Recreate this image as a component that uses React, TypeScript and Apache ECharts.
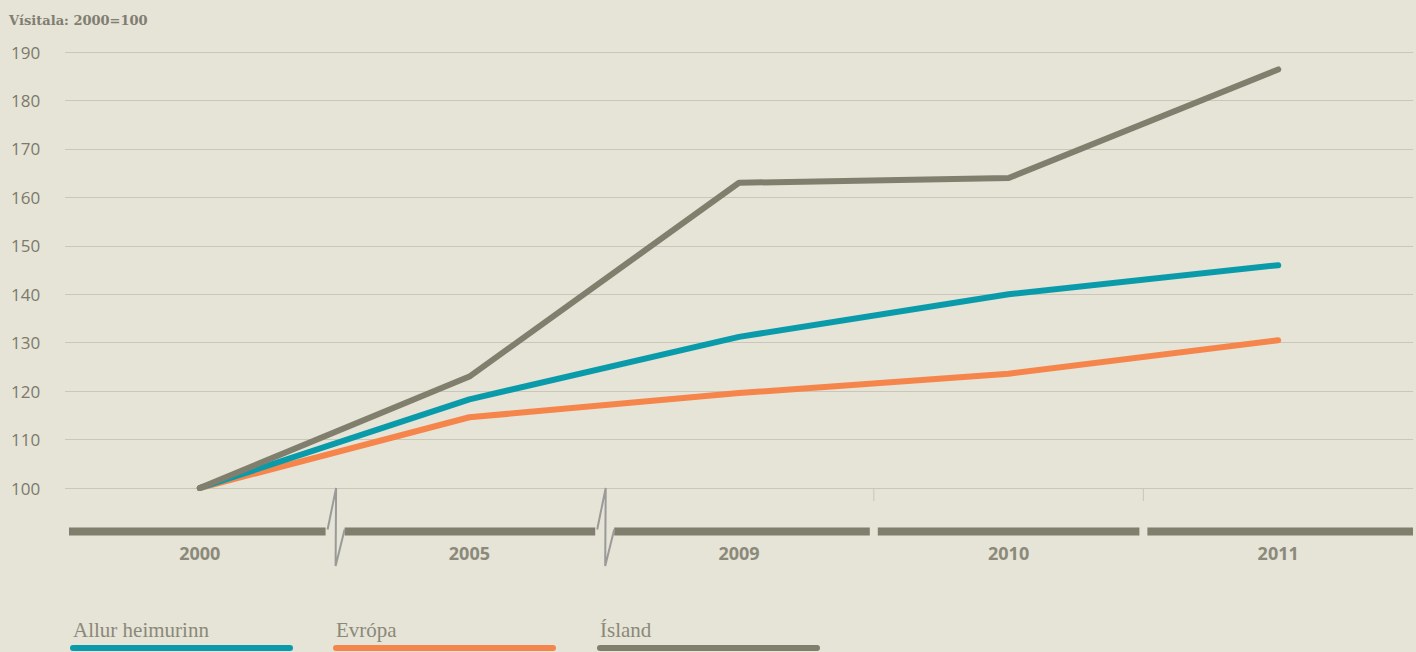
import React, { useEffect, useRef } from "react";
import * as echarts from "echarts";

const categories = ["2000", "2005", "2009", "2010", "2011"];
const allurHeimurinn = [100, 118.3, 131.2, 140, 146];
const evropa = [100, 114.6, 119.6, 123.6, 130.5];
const island = [100, 123, 163, 164, 186.4];
const seriesNames = ["Allur heimurinn", "Evrópa", "Ísland"];
const yTicks = { min: 100, max: 190, interval: 10 };
const title = "Vísitala: 2000=100";

const COLORS = { teal: "#0a9bab", orange: "#f5854a", gray: "#807f6e" };
const BG = "#e6e3d7";

export default function App() {
  const ref = useRef<HTMLDivElement>(null);

  useEffect(() => {
    document.body.style.margin = "0";
    const el = ref.current!;
    const chart = echarts.init(el, null, { renderer: "svg" });
    const lineStyle = (c: string) => ({ width: 6, color: c, cap: "round", join: "round" });
    const option: any = {
      animation: false,
      backgroundColor: BG,
      grid: { left: 65, right: 3, top: 52, bottom: 164 },
      xAxis: {
        type: "category",
        data: categories,
        boundaryGap: true,
        axisLine: { show: false },
        axisTick: { show: false },
        axisLabel: {
          margin: 56,
          color: "#8b8a7a",
          fontFamily: "Open Sans",
          fontWeight: "bold",
          fontSize: 18,
        },
      },
      yAxis: {
        type: "value",
        min: yTicks.min,
        max: yTicks.max,
        interval: yTicks.interval,
        axisLine: { show: false },
        axisTick: { show: false },
        splitLine: { lineStyle: { color: "#c9c7ba", width: 1 } },
        axisLabel: {
          align: "left",
          margin: 54,
          color: "#7b7a6b",
          fontFamily: "Open Sans",
          fontWeight: 500,
          fontSize: 17,
        },
      },
      series: [
        { name: seriesNames[1], type: "line", data: evropa, symbol: "none", lineStyle: lineStyle(COLORS.orange), z: 2 },
        { name: seriesNames[0], type: "line", data: allurHeimurinn, symbol: "none", lineStyle: lineStyle(COLORS.teal), z: 3 },
        { name: seriesNames[2], type: "line", data: island, symbol: "none", lineStyle: lineStyle(COLORS.gray), z: 4 },
      ],
    };
    chart.setOption(option);

    const px = (i: number) => chart.convertToPixel({ xAxisIndex: 0 }, i) as number;
    const y100 = chart.convertToPixel({ yAxisIndex: 0 }, yTicks.min) as number;
    const centers = categories.map((_, i) => px(i));
    const band = centers[1] - centers[0];
    const bounds: number[] = [];
    for (let i = 0; i < centers.length - 1; i++) bounds.push((centers[i] + centers[i + 1]) / 2);
    const leftEnd = centers[0] - band / 2 + 4;
    const rightEnd = centers[centers.length - 1] + band / 2;
    const barY = y100 + 43.5;

    const graphics: any[] = [];
    const gaps = bounds.map((b, i) => (i < 2 ? [b - 9, b + 10] : [b - 4, b + 4]));
    let start = leftEnd;
    const segs: number[][] = [];
    gaps.forEach((g) => {
      segs.push([start, g[0]]);
      start = g[1];
    });
    segs.push([start, rightEnd]);
    segs.forEach((s) =>
      graphics.push({
        type: "rect",
        shape: { x: s[0], y: barY - 4, width: s[1] - s[0], height: 8 },
        style: { fill: COLORS.gray },
        silent: true,
      })
    );
    bounds.slice(0, 2).forEach((b) =>
      graphics.push({
        type: "polyline",
        shape: {
          points: [
            [b - 7, barY - 2],
            [b + 1.5, y100],
            [b + 1, y100 + 78],
            [b + 10, barY - 2],
          ],
        },
        style: { stroke: "#9a9a98", lineWidth: 2, fill: "none" },
        silent: true,
      })
    );
    bounds.slice(2).forEach((b) =>
      graphics.push({
        type: "line",
        shape: { x1: b, y1: y100, x2: b, y2: y100 + 13 },
        style: { stroke: "#c9c7ba", lineWidth: 1 },
        silent: true,
      })
    );
    graphics.push({
      type: "text",
      x: 9,
      y: 20,
      style: {
        text: title,
        fontFamily: "DejaVu Serif, serif",
        fontWeight: "bold",
        fontSize: 13,
        fill: "#7f7e70",
        verticalAlign: "middle",
      },
    });
    const legendItems = [
      { name: seriesNames[0], color: COLORS.teal, x: 70 },
      { name: seriesNames[1], color: COLORS.orange, x: 333 },
      { name: seriesNames[2], color: COLORS.gray, x: 597 },
    ];
    legendItems.forEach((it) => {
      graphics.push({
        type: "text",
        x: it.x + 3,
        y: 640,
        style: {
          text: it.name,
          fontFamily: "Liberation Serif",
          fontSize: 21,
          fill: "#8a8978",
          verticalAlign: "bottom",
        },
      });
      graphics.push({
        type: "line",
        shape: { x1: it.x + 3, y1: 648, x2: it.x + 220, y2: 648 },
        style: { stroke: it.color, lineWidth: 6, lineCap: "round" },
      });
    });
    chart.setOption({ graphic: graphics });

    return () => chart.dispose();
  }, []);

  return <div ref={ref} style={{ width: 1416, height: 652, background: BG }} />;
}
